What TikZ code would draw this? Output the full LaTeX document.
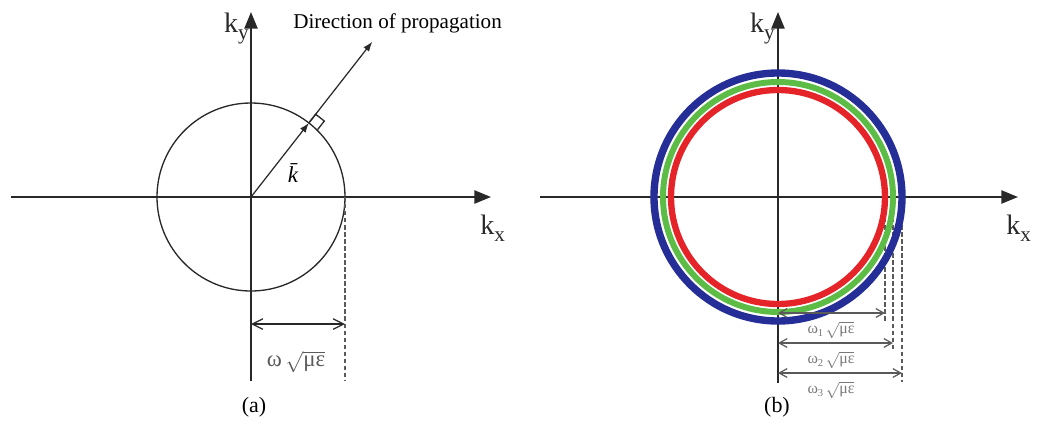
\documentclass[tikz,border=0pt]{standalone}
\usepackage{fontspec}
\setmainfont{Liberation Serif}
\usetikzlibrary{arrows.meta,calc,positioning}
\definecolor{fsInk}{RGB}{40,40,40}
\definecolor{fsGrey}{RGB}{90,90,90}
\definecolor{fsSoft}{RGB}{120,120,120}
\definecolor{fsBlue}{RGB}{36,46,150}
\definecolor{fsGreen}{RGB}{92,188,70}
\definecolor{fsRed}{RGB}{228,36,40}
\newcommand{\axk}[1]{k\raisebox{-0.55ex}{\fontsize{12}{12}\selectfont #1}}
\newcommand{\rootme}{$\sqrt{\hbox{με}}$}
\tikzset{
  axis/.style={draw=fsInk,line width=1.1pt,-{Triangle[length=9.5pt,width=7.5pt]}},
  axlabel/.style={font=\fontsize{16}{18}\selectfont,inner sep=0pt,text=fsInk},
  vec/.style={draw=fsInk,line width=0.7pt,-{Latex[length=5.5pt,width=4pt]}},
  ring/.style={draw=fsInk,line width=0.75pt},
  guide/.style={draw=fsGrey,line width=0.7pt,dash pattern=on 2.5pt off 1.5pt},
  dimline/.style={draw=fsInk,line width=0.7pt,{Straight Barb[length=6pt,width=6pt]}-{Straight Barb[length=6pt,width=6pt]}},
  dimsmall/.style={draw=fsGrey,line width=0.7pt,{Straight Barb[length=4.5pt,width=5pt]}-{Straight Barb[length=4.5pt,width=5pt]}},
  caption/.style={font=\fontsize{12.5}{14}\selectfont,inner sep=0pt}
}

\begin{document}
\begin{tikzpicture}[x=0.02cm,y=-0.02cm]
  \useasboundingbox (0,0) rectangle (1042,423);
  % (a) single surface
  \coordinate (oa) at (251,197);
  \coordinate (axl) at (11,197);
  \coordinate (axr) at (491,197);
  \coordinate (ayb) at (251,381);
  \coordinate (ayt) at (251,12);
  \draw[axis] (axl) -- (axr);
  \draw[axis] (ayb) -- (ayt);
  \node[axlabel,anchor=base east] (kya) at (249,32) {\axk{y}};
  \node[axlabel,anchor=base west] (kxa) at (480,234) {\axk{x}};
  \draw[ring] (oa) circle[radius=94];
  \coordinate (pk) at ($(oa)+(-52:94)$);
  \coordinate (dirtip) at ($(oa)+(-52:197)$);
  \draw[vec] (oa) -- (pk);
  \draw[vec] (pk) -- (dirtip);
  \draw[ring] (pk) -- ++(-52:11) -- ++(38:11) -- ++(128:11);
  \node[anchor=base west,font=\fontsize{12}{14}\selectfont,inner sep=0pt] (dirlbl) at (293,28) {Direction of propagation};
  \node[font=\fontsize{13}{14}\selectfont\itshape,inner sep=0pt] (kbar) at (293,173) {\=k};
  \coordinate (ra) at (345,197);
  \coordinate (rab) at (345,380);
  \draw[guide] (ra) -- (rab);
  \coordinate (da1) at (251,324);
  \coordinate (da2) at (345,324);
  \draw[dimline] (da1) -- (da2);
  \node[font=\fontsize{13}{14}\selectfont,text=fsGrey,inner sep=0pt] (dima) at (296,362) {ω\,\rootme};
  \node[caption] (capa) at (254,407) {(a)};
  % (b) three frequencies
  \coordinate (ob) at (778,197);
  \coordinate (bxl) at (540,197);
  \coordinate (bxr) at (1018,197);
  \coordinate (byb) at (778,383);
  \coordinate (byt) at (778,12);
  \foreach \r/\e in {107/321,115/351,124/382}{
    \coordinate (gt\r) at (778+\r,197);
    \coordinate (gb\r) at (778+\r,\e);
    \draw[guide] (gt\r) -- (gb\r);
  }
  \draw[axis] (bxl) -- (bxr);
  \draw[axis] (byb) -- (byt);
  \foreach \r/\c/\w in {124/fsBlue/4.2pt,115/fsGreen/3.4pt,107/fsRed/3.6pt}
    \draw[draw=\c,line width=\w] (ob) circle[radius=\r];
  \node[axlabel,anchor=base east] (kyb) at (775,32) {\axk{y}};
  \node[axlabel,anchor=base west] (kxb) at (1006,234) {\axk{x}};
  \foreach \r/\y/\i in {107/313/1,115/343/2,124/373/3}{
    \coordinate (dl\i) at (778,\y);
    \coordinate (dr\i) at (778+\r,\y);
    \draw[dimsmall] (dl\i) -- (dr\i);
    \node[font=\fontsize{9}{10}\selectfont,text=fsSoft,inner sep=0pt] (dimb\i) at (831,\y+17) {ω\raisebox{-0.4ex}{\fontsize{6}{6}\selectfont\i}\,\rootme};
  }
  \node[caption] (capb) at (777,407) {(b)};
\end{tikzpicture}
\end{document}
